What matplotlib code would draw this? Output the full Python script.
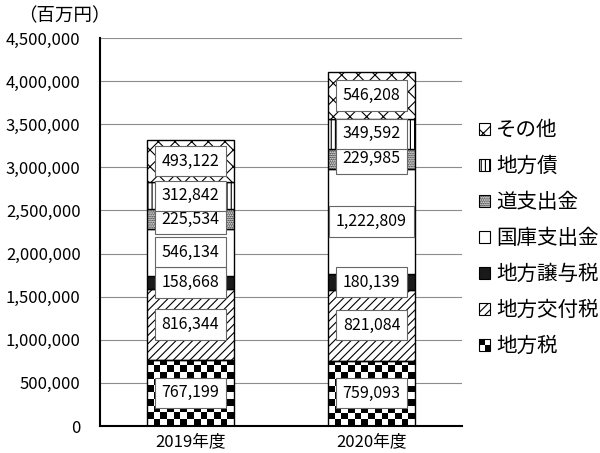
import numpy as np
import matplotlib
matplotlib.use("Agg")
import matplotlib.pyplot as plt
from matplotlib.patches import Patch, Rectangle
from matplotlib.legend_handler import HandlerBase
from matplotlib.ticker import FuncFormatter

plt.rcParams['font.family'] = ['Noto Sans CJK JP', 'DejaVu Sans']
plt.rcParams['hatch.linewidth'] = 0.8

years = ["2019年度", "2020年度"]
items = ["地方税", "地方交付税", "地方譲与税", "国庫支出金", "道支出金", "地方債", "その他"]
chihouzei = [767199, 759093]
koufuzei = [816344, 821084]
jouyozei = [158668, 180139]
kokko = [546134, 1222809]
dou = [225534, 229985]
chihousai = [312842, 349592]
sonota = [493122, 546208]
yticks = [0, 500000, 1000000, 1500000, 2000000, 2500000, 3000000, 3500000, 4000000, 4500000]

series = [chihouzei, koufuzei, jouyozei, kokko, dou, chihousai, sonota]
# face colour / hatch for each item (None face => checkerboard image)
styles = [
    (None, ''),
    ('white', '////'),
    ('#1a1a1a', ''),
    ('white', ''),
    ('white', '.........'),
    ('white', '||||'),
    ('white', 'xx'),
]


class CheckerHandler(HandlerBase):
    def create_artists(self, legend, orig_handle, xdescent, ydescent,
                       width, height, fontsize, trans):
        x0, y0 = -xdescent, -ydescent
        w, h = width / 2, height / 2
        box = Rectangle((x0, y0), width, height, facecolor='white',
                        edgecolor='black', lw=0.8, transform=trans)
        a = Rectangle((x0, y0 + h), w, h, facecolor='black', lw=0, transform=trans)
        b = Rectangle((x0 + w, y0), w, h, facecolor='black', lw=0, transform=trans)
        return [box, a, b]


fig = plt.figure(figsize=(6.0, 4.53), dpi=100)
ax = fig.add_axes([0.1667, 0.0596, 0.6033, 0.8564])

x = np.arange(len(years))
width = 0.48
bottom = np.zeros(len(years))

# checkerboard texture for the bottom segments
sq_x = width / 13
sq_y = 77500
nx = int(np.ceil(2.0 / sq_x))
ny = int(np.ceil(1000000 / sq_y))
checker = (np.indices((ny, nx)).sum(axis=0) % 2).astype(float)

for vals, (fc, hatch) in zip(series, styles):
    vals = np.array(vals, dtype=float)
    if fc is None:
        bars = ax.bar(x, vals, width, bottom=bottom, facecolor='none',
                      edgecolor='black', linewidth=1.0, zorder=3)
        for b in bars:
            x_left = b.get_x()
            im = ax.imshow(checker, cmap='gray_r', interpolation='nearest',
                           extent=(x_left, x_left + nx * sq_x, 0, ny * sq_y),
                           origin='lower', aspect='auto', zorder=2)
            im.set_clip_path(b)
    else:
        bars = ax.bar(x, vals, width, bottom=bottom, facecolor=fc, hatch=hatch,
                      edgecolor='black', linewidth=1.0, zorder=2)
    for xi, b0, v in zip(x, bottom, vals):
        ax.text(xi, b0 + v / 2, f"{int(v):,}", ha='center', va='center',
                fontsize=11.5, zorder=5,
                bbox=dict(boxstyle='square,pad=0.42', facecolor='white',
                          edgecolor='#666666', linewidth=0.8))
    bottom += vals

ax.set_xlim(-0.5, 1.5)
ax.set_ylim(0, 4500000)
ax.set_yticks(yticks)
ax.yaxis.set_major_formatter(FuncFormatter(lambda v, p: f"{int(v):,}"))
ax.set_xticks(x)
ax.set_xticklabels(years)
ax.tick_params(axis='both', length=0, labelsize=12)
ax.tick_params(axis='y', pad=14)
ax.tick_params(axis='x', pad=5)
ax.grid(axis='y', color='#8c8c8c', linewidth=0.8)
ax.set_axisbelow(True)
for s in ['top', 'right']:
    ax.spines[s].set_visible(False)
ax.spines['left'].set_linewidth(1.5)
ax.spines['bottom'].set_linewidth(1.5)

# unit label above the y axis
fig.text(0.107, 0.965, "（百万円）", fontsize=13.3, va='center', ha='center')

handles = []
for (fc, hatch), name in zip(styles, items):
    if fc is None:
        handles.append(Patch(facecolor='white', edgecolor='black', label=name))
    else:
        handles.append(Patch(facecolor=fc, hatch=hatch, edgecolor='black',
                             linewidth=0.8, label=name))
handles = handles[::-1]
hmap = {handles[-1]: CheckerHandler()}
fig.legend(handles=handles, labels=items[::-1], handler_map=hmap,
           loc='upper left', bbox_to_anchor=(0.785, 0.755), frameon=False,
           fontsize=14.8, handlelength=0.52, handleheight=0.52,
           handletextpad=0.3, labelspacing=0.68, borderaxespad=0)

fig.savefig('out.png', dpi=100)
